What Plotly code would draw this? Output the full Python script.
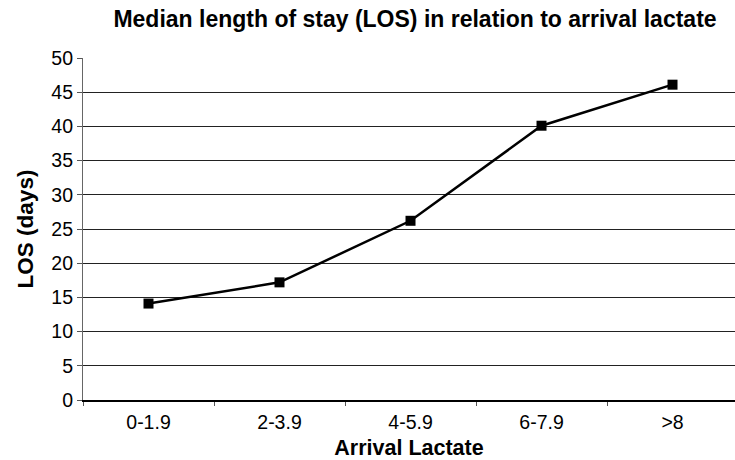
import plotly.graph_objects as go

# Arrival lactate bands (mmol/L) and median length of stay in days
lactate_bands = ["0-1.9", "2-3.9", "4-5.9", "6-7.9", ">8"]
median_los = [14.1, 17.2, 26.2, 40.1, 46.1]
y_ticks = [0, 5, 10, 15, 20, 25, 30, 35, 40, 45, 50]

FONT = "Liberation Sans, Arial, Helvetica, sans-serif"

fig = go.Figure(
    go.Scatter(
        x=lactate_bands,
        y=median_los,
        mode="lines+markers",
        line=dict(color="black", width=2.5),
        marker=dict(symbol="square", size=10, color="black"),
        showlegend=False,
        cliponaxis=False,
    )
)

fig.update_layout(
    width=735,
    height=460,
    margin=dict(l=83, r=0, t=58, b=60),
    paper_bgcolor="white",
    plot_bgcolor="white",
    font=dict(family=FONT, size=20, color="black"),
    title=dict(
        text="<b>Median length of stay (LOS) in relation to arrival lactate</b>",
        x=415 / 735,
        xref="container",
        xanchor="center",
        y=1 - 19 / 460,
        yref="container",
        yanchor="middle",
        font=dict(family=FONT, size=23, color="black"),
    ),
)

fig.update_xaxes(
    type="category",
    range=[-0.5, 4.477],
    tickson="boundaries",
    ticks="outside",
    ticklen=4,
    tickwidth=1,
    tickcolor="#555",
    ticklabelstandoff=4,
    showgrid=False,
    showline=True,
    linecolor="black",
    linewidth=1.5,
    tickfont=dict(size=19.5),
    title=dict(text="<b>Arrival Lactate</b>", font=dict(size=21.5), standoff=12),
)

fig.update_yaxes(
    range=[0, 50],
    tickvals=y_ticks,
    ticks="outside",
    ticklen=5,
    tickwidth=1,
    tickcolor="#555",
    showgrid=True,
    gridcolor="#222",
    gridwidth=1.2,
    zeroline=False,
    showline=True,
    linecolor="#666",
    linewidth=1.2,
    tickfont=dict(size=19.5),
    title=dict(text="<b>LOS (days)</b>", font=dict(size=22.5), standoff=11),
)

fig.write_html("out.html")
